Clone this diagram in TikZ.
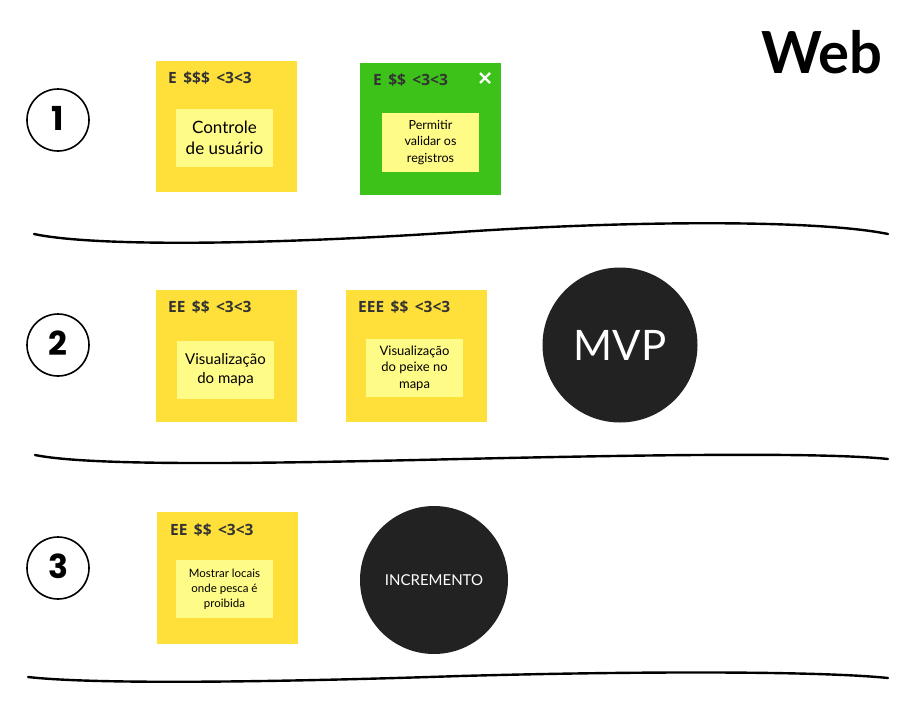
\documentclass[tikz,border=0pt]{standalone}
\usepackage{fontspec}
\setmainfont{Lato}
\newfontfamily\digitfont{Poppins}
\newfontfamily\headfont{Open Sans}[WordSpace={1.6}]
\definecolor{noteyellow}{RGB}{255,224,58}
\definecolor{innery}{RGB}{255,251,135}
\definecolor{notegreen}{RGB}{60,194,24}
\definecolor{darkc}{RGB}{34,34,34}
\definecolor{headc}{RGB}{51,51,51}
\begin{document}
\begin{tikzpicture}[x=1pt,y=-1pt,
  note/.style={fill=noteyellow,minimum width=141pt,minimum height=131pt,inner sep=0pt},
  gnote/.style={fill=notegreen,minimum width=141pt,minimum height=132pt,inner sep=0pt},
  inbox/.style={fill=innery,minimum width=97pt,minimum height=58pt,inner sep=0pt,align=center,text=black},
  head/.style={anchor=west,font=\headfont\fontsize{15.5}{17}\selectfont\bfseries,text=headc,inner sep=0pt},
  numc/.style={draw=black,line width=1.6pt,circle,minimum size=62pt,inner sep=0pt},
  digit/.style={font=\digitfont\bfseries\fontsize{33}{33}\selectfont,text=black,inner sep=0pt},
  bigc/.style={fill=darkc,circle,inner sep=0pt,text=white},
  sep/.style={line width=2.4pt,line cap=round,black}]
\useasboundingbox (0,0) rectangle (915,704);
% number circles
\node[numc] (c1) at (58,120) {};
\node[numc] (c2) at (58,345) {};
\node[numc] (c3) at (58,568) {};
\node[digit] (d1) at ([yshift=2pt]c1.center) {1};
\node[digit] (d2) at ([yshift=2pt]c2.center) {2};
\node[digit] (d3) at ([yshift=2pt]c3.center) {3};
% notes row 1
\node[note] (n1) at (226.5,126.5) {};
\node[head] (h1) at (168,78) {E \$\$\$ <3<3};
\node[inbox,font=\fontsize{17}{20.5}\selectfont] (i1) at (224.5,138) {Controle\\de usuário};
\node[gnote] (n2) at (430.5,129) {};
\node[head] (h2) at (373,80) {E \$\$ <3<3};
\node[inbox,minimum height=59pt,font=\fontsize{12.5}{16.5}\selectfont] (i2) at (430.5,142.5) {Permitir\\validar os\\registros};
\node (x2) at (485,78) {};
\draw[white,line width=2.4pt] ([shift={(-5,-5)}]x2.center) -- ([shift={(5,5)}]x2.center)
  ([shift={(-5,5)}]x2.center) -- ([shift={(5,-5)}]x2.center);
% row 2
\node[note,minimum height=132pt] (n3) at (226.5,356) {};
\node[head] (h3) at (168,307) {EE \$\$ <3<3};
\node[inbox,font=\fontsize{15}{19}\selectfont] (i3) at (225.5,370) {Visualização\\do mapa};
\node[note,minimum height=132pt] (n4) at (416.5,356) {};
\node[head] (h4) at (358,307) {EEE \$\$ <3<3};
\node[inbox,font=\fontsize{13}{16.5}\selectfont] (i4) at (414.5,368) {Visualização\\do peixe no\\mapa};
\node[bigc,minimum size=155pt,font=\fontsize{42}{42}\selectfont] (mvp) at (620,345) {MVP};
% row 3
\node[note,minimum height=132pt] (n5) at (227.5,578) {};
\node[head] (h5) at (170,530) {EE \$\$ <3<3};
\node[inbox,font=\fontsize{11.5}{15}\selectfont] (i5) at (224.5,589) {Mostrar locais\\onde pesca é\\proibida};
\node[bigc,minimum size=148pt,font=\fontsize{15}{16}\selectfont] (inc) at (434,580) {INCREMENTO};
% title
\node[font=\fontsize{58}{58}\selectfont\bfseries,anchor=east,inner sep=0pt] (web) at (883,52) {Web};
% separator lines
\draw[sep] (34,234) .. controls (90,246) and (250,246) .. (460,232) .. controls (640,220) and (820,220) .. (888,234);
\draw[sep] (35,455) .. controls (90,466) and (250,464) .. (460,459) .. controls (640,455) and (820,452) .. (888,459);
\draw[sep] (28,677) .. controls (90,684) and (250,683) .. (460,676) .. controls (640,671) and (820,671) .. (888,678);
\end{tikzpicture}
\end{document}
